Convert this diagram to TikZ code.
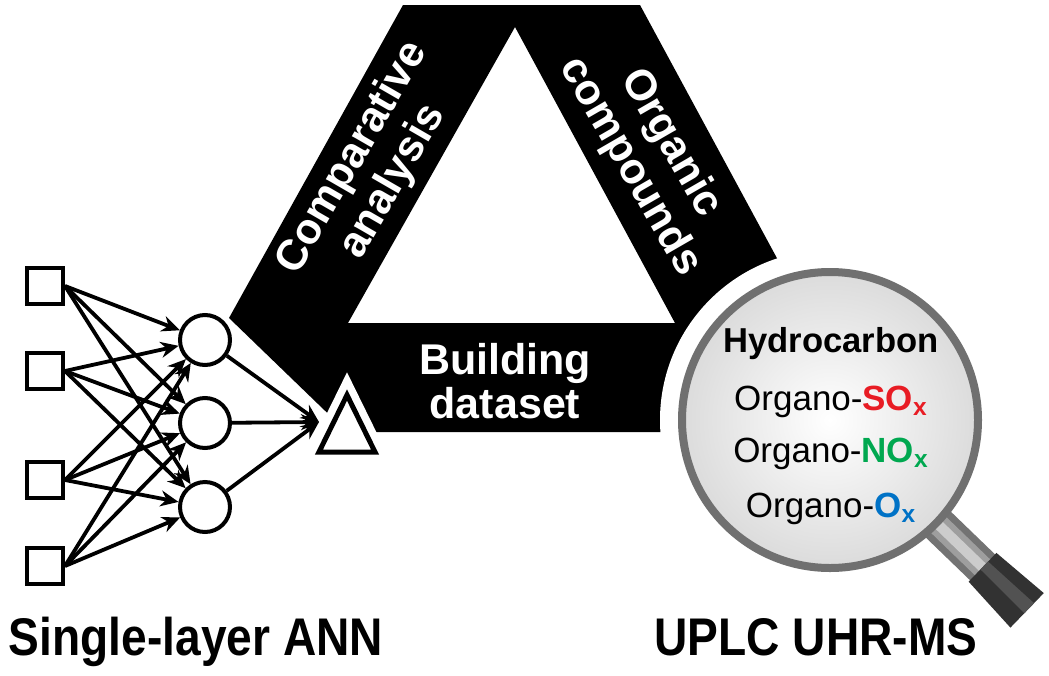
\documentclass[tikz,border=0pt]{standalone}
\usepackage{fontspec}
\setmainfont{Liberation Sans}
\usepackage{graphicx}
\usepackage{xcolor}
\usetikzlibrary{arrows.meta,positioning,calc}
\definecolor{rimgray}{RGB}{112,112,112}
\definecolor{gripgray}{RGB}{50,50,50}
\definecolor{sored}{RGB}{232,28,36}
\definecolor{nogreen}{RGB}{0,168,80}
\definecolor{oblue}{RGB}{0,114,198}

\begin{document}
\begin{tikzpicture}[x=0.5pt, y=-0.5pt,
    inp/.style={rectangle, draw, line width=2pt, minimum size=18pt, inner sep=0pt},
    hid/.style={circle, draw, line width=2pt, minimum size=25pt, inner sep=0pt},
    wire/.style={line width=1.9pt, -{Stealth[length=9pt,width=8pt]}},
    bandtext/.style={text=white, font=\fontsize{21.5}{23.5}\selectfont\bfseries, align=center},
    lenstext/.style={anchor=base, font=\fontsize{17.5}{20}\selectfont},
    caption/.style={anchor=base, font=\fontsize{26.5}{30}\selectfont\bfseries},
]
\useasboundingbox (0,0) rectangle (1049,675);

% Black band (triangle with a hole)
\fill[black, even odd rule] (403,5) -- (640,5) -- (871,432) -- (347,432) -- (229,318) -- cycle
    (515,27) -- (675,323) -- (348,323) -- cycle;

\node[bandtext, rotate=60] (cmp) at (373,170) {Comparative\\analysis};
\node[bandtext, rotate=-60] (org) at (650,155) {Organic\\compounds};
\node[bandtext, font=\fontsize{21.5}{22}\selectfont\bfseries] (bld) at (505,381) {Building\\dataset};

% Magnifier
\coordinate (lens) at (830,420);
\fill[white] (lens) circle (85pt);
\begin{scope}[shift={(830,420)}, rotate=-44]
  % shaft
  \draw[line width=18pt, color=black!55] (140,0) -- (214,0);
  \draw[line width=11pt, color=black!38] (140,0) -- (214,0);
  \draw[line width=5pt, color=black!20] (140,0) -- (214,0);
  % grip
  \fill[gripgray] (212,-20) -- (274,-24) -- (274,24) -- (212,20) -- cycle;
  \fill[black!68] (212,-8) -- (274,-10) -- (274,4) -- (212,3) -- cycle;
\end{scope}
\shade[inner color=white, outer color=black!14] (lens) circle (74pt);
\draw[rimgray, line width=4pt] (lens) circle (74pt);

\node[lenstext, font=\fontsize{17.3}{20}\selectfont\bfseries] (hc) at (831,352) {Hydrocarbon};
\node[lenstext] (so) at (831,410) {Organo-\textcolor{sored}{\textbf{SO}\textsubscript{\textbf{x}}}};
\node[lenstext] (no) at (831,462) {Organo-\textcolor{nogreen}{\textbf{NO}\textsubscript{\textbf{x}}}};
\node[lenstext] (ox) at (831,517) {Organo-\textcolor{oblue}{\textbf{O}\textsubscript{\textbf{x}}}};

% Single-layer network
\node[inp] (i1) at (45,286) {};
\node[inp] (i2) at (45,371) {};
\node[inp] (i3) at (45,480) {};
\node[inp] (i4) at (45,566) {};
\node[hid] (h1) at (205,340) {};
\node[hid] (h2) at (205,423) {};
\node[hid] (h3) at (205,507) {};
\coordinate (otip) at (319,422);

% white edge round the output triangle
\draw[white, line width=10pt, line join=miter] (319,452) -- (347,395) -- (375,452) -- cycle;

\foreach \i in {1,...,4}
  \foreach \h in {1,2,3}
    \draw[wire] (i\i.east) -- (h\h);
\foreach \h in {1,2,3}
  \draw[wire] (h\h) -- (otip);

\draw[line width=2.5pt, fill=white, line join=miter] (319,452) -- (347,395) -- (375,452) -- cycle;

% Captions
\node[caption] (ann) at (196,655) {\scalebox{0.87}[1]{Single-layer ANN}};
\node[caption] (ms) at (816,655) {\scalebox{0.87}[1]{UPLC UHR-MS}};

\end{tikzpicture}
\end{document}
